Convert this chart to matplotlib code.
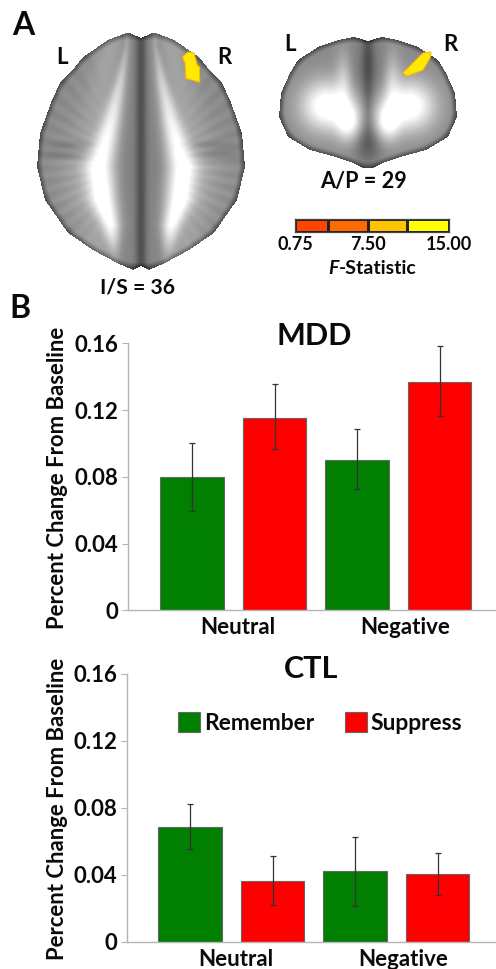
#!/usr/bin/env python3

import numpy as np
import matplotlib
matplotlib.use('Agg')
import matplotlib.pyplot as plt
from matplotlib.patches import Patch

plt.rcParams['font.family'] = ['Lato', 'DejaVu Sans']
plt.rcParams['font.weight'] = 'bold'

conditions = ['Remember', 'Suppress']
groups = ['Neutral', 'Negative']
y_ticks = [0, 0.04, 0.08, 0.12, 0.16]
y_tick_labels = ['0', '0.04', '0.08', '0.12', '0.16']

mdd_values = [0.080, 0.1155, 0.090, 0.137]
mdd_low = [0.0595, 0.0967, 0.0727, 0.1163]
mdd_high = [0.100, 0.1354, 0.1085, 0.1584]

ctl_values = [0.0687, 0.0364, 0.042, 0.0404]
ctl_low = [0.0555, 0.0219, 0.0213, 0.0279]
ctl_high = [0.082, 0.051, 0.0625, 0.0527]

cbar_edges = [0.75, 3.77, 7.47, 11.08, 15.0]
cbar_colors = ['#ff4400', '#ff6a00', '#ffc400', '#ffff00']
cbar_ticks = [0.75, 7.5, 15.0]
cbar_labels = ['0.75', '7.50', '15.00']

GREEN = '#007f00'
RED = '#ff0000'
INK = '#0a0a0a'
W, H = 496, 969


def px_axes(fig, left, top, right, bottom):
    return fig.add_axes([left / W, 1 - bottom / H, (right - left) / W, (bottom - top) / H])


def blur(a, s):
    k = np.exp(-0.5 * (np.arange(-3 * s, 3 * s + 1) / s) ** 2)
    k /= k.sum()
    a = np.apply_along_axis(lambda r: np.convolve(r, k, mode='same'), 0, a)
    return np.apply_along_axis(lambda r: np.convolve(r, k, mode='same'), 1, a)


def blob(u, v, cu, cv, su, sv):
    return np.exp(-0.5 * (((u - cu) / su) ** 2 + ((v - cv) / sv) ** 2))


def axial_slice(xx, yy):
    cx = 141
    u, v = xx - cx, yy
    edge_y = [33, 40, 57, 67, 83, 100, 133, 167, 200, 233, 250, 263, 270]
    edge_w = [15, 33, 58, 66, 81, 89, 101, 104, 96, 73, 48, 24, 8]
    hw = np.interp(v, edge_y, edge_w)
    mask = (np.abs(u) < hw) & (v > 33) & (v < 270)
    mask &= ~(v < 38 - np.abs(u) * 0.45)
    mask &= ~(v > 266 + np.abs(u) * 0.5)
    m = blur(mask.astype(float), 7)
    img = 0.30 + 0.24 * np.clip((m - 0.5) * 3.5, 0, 1)

    # bright tracts either side of the midline
    tv = [45, 80, 120, 167, 200, 225, 255]
    tu = [14, 20, 29, 42, 38, 30, 26]
    ts = [2, 4, 7, 11, 10, 7, 4]
    ta = [0.08, 0.24, 0.36, 0.46, 0.48, 0.42, 0.08]
    cu = np.interp(v, tv, tu)
    su = np.interp(v, tv, ts)
    amp = np.interp(v, tv, ta)
    img += amp * np.exp(-0.5 * ((np.abs(u) - cu) / su) ** 2)
    img += 0.1 * np.exp(-0.5 * ((np.abs(u) - cu - 16) / (su + 9)) ** 2)

    # dark midline and grey band
    img -= 0.22 * np.exp(-0.5 * (u / 4) ** 2)
    img -= 0.05 * blob(np.abs(u), v, 16, 165, 8, 70)
    for cu2, cv2 in [(68, 145), (75, 155)]:
        img -= 0.08 * blob(np.abs(u), v, cu2, cv2, 16, 3)
    ang = np.arctan2(v - 165, u)
    img += 0.018 * np.sin(ang * 44) * np.clip((np.abs(u) - 30) / 40, 0, 1)
    return np.clip(img, 0, 1), mask


def coronal_slice(xx, yy):
    cx = 368
    u, v = xx - cx, yy
    edge_y = [37, 40, 47, 60, 73, 93, 117, 137, 150, 157, 163, 168]
    edge_w = [14, 30, 50, 70, 78, 87, 89, 80, 58, 32, 15, 5]
    hw = np.interp(v, edge_y, edge_w)
    mask = (np.abs(u) < hw) & (v > 37) & (v < 168)
    mask &= ~(v < 41 - np.abs(u) * 0.3)
    m = blur(mask.astype(float), 6)
    img = 0.28 + 0.26 * np.clip((m - 0.5) * 3.2, 0, 1)
    img += 0.54 * blob(np.abs(u), v, 42, 106, 18, 18)
    img += 0.42 * blob(np.abs(u), v, 19, 122, 9, 14)
    img += 0.2 * blob(np.abs(u), v, 24, 78, 6, 20)
    img -= 0.22 * blob(u, v, 0, 65, 4.5, 34)
    img -= 0.06 * blob(np.abs(u), v, 12, 72, 8, 20)
    img -= 0.18 * blob(u, v, 0, 143, 10, 13)
    return np.clip(img, 0, 1), mask


def bar_panel(fig, top, bottom, left, title, title_xy, values, low, high, x_center, label_y):
    ax = px_axes(fig, left, top, W, bottom)
    ax.patch.set_visible(False)
    ax.set_xlim((left - x_center) / 82.5, (W - x_center) / 82.5)
    ax.set_ylim(0, 0.16)
    x = np.arange(4)
    colors = [GREEN, RED, GREEN, RED]
    ax.bar(x, values, width=0.77, color=colors, edgecolor='#666666', linewidth=0.8, zorder=2)
    err = [np.array(values) - np.array(low), np.array(high) - np.array(values)]
    ax.errorbar(x, values, yerr=err, fmt='none', ecolor='#333333', elinewidth=0.9,
                capsize=2.2, capthick=0.9, zorder=3)
    for side in ['top', 'right']:
        ax.spines[side].set_visible(False)
    for side in ['left', 'bottom']:
        ax.spines[side].set_color('#b5b5b5')
        ax.spines[side].set_linewidth(1.0)
    ax.set_yticks(y_ticks)
    ax.set_yticklabels(y_tick_labels, fontsize=16, color=INK)
    ax.tick_params(axis='y', length=4, color='#b5b5b5', pad=3)
    ax.set_xticks([0.55, 2.58])
    ax.set_xticklabels(groups, fontsize=16, color=INK)
    ax.tick_params(axis='x', length=0, pad=5)
    fig.text(title_xy[0] / W, 1 - title_xy[1] / H, title, fontsize=22, ha='center', va='center',
             color=INK)
    fig.text(57 / W, 1 - label_y / H, 'Percent Change From Baseline',
             rotation=90, fontsize=15.9, ha='center', va='center', color=INK)
    return ax


fig = plt.figure(figsize=(W / 100, H / 100), dpi=100, facecolor='white')

# panel A, everything placed in image pixels
bg = fig.add_axes([0, 0, 1, 1])
bg.set_xlim(0, W)
bg.set_ylim(H, 0)
bg.axis('off')

yy, xx = np.mgrid[0:H, 0:W]
canvas = np.ones((H, W, 4))
canvas[..., 3] = 0
for func in (axial_slice, coronal_slice):
    img, mask = func(xx.astype(float) + 0.5, yy.astype(float) + 0.5)
    for c in range(3):
        canvas[..., c][mask] = img[mask]
    canvas[..., 3][mask] = 1
bg.imshow(canvas, extent=(0, W, H, 0), interpolation='bilinear', aspect='auto', zorder=1)
bg.set_xlim(0, W)
bg.set_ylim(H, 0)

cluster_a_x = [182.5, 188, 194, 197, 199.5, 199.5, 186, 185]
cluster_a_y = [57, 52, 53, 65, 67, 82, 78.5, 63]
cluster_c_x = [403, 423, 431, 430, 423, 407]
cluster_c_y = [73, 53, 52, 58, 70, 76]
for cx_, cy_ in [(cluster_a_x, cluster_a_y), (cluster_c_x, cluster_c_y)]:
    bg.fill(cx_, cy_, facecolor='#ffea00', edgecolor='#ffb800', linewidth=0.8, zorder=2)

for txt, x, y, size in [('A', 23, 25, 23), ('B', 20, 309, 23), ('L', 62, 57, 16),
                        ('R', 224, 57, 16), ('L', 290, 44, 16), ('R', 450, 44, 16),
                        ('I/S = 36', 138, 288, 15.2), ('A/P = 29', 364, 181, 15.6)]:
    bg.text(x, y, txt, fontsize=size, ha='center', va='center', color=INK, zorder=4)

cb = px_axes(fig, 295, 219, 449, 232)
cb.pcolormesh(cbar_edges, [0, 1], np.arange(4).reshape(1, 4),
              cmap=matplotlib.colors.ListedColormap(cbar_colors),
              edgecolors='#222222', linewidth=0.8)
cb.set_yticks([])
cb.set_xticks(cbar_ticks)
cb.set_xticklabels(cbar_labels, fontsize=13, color=INK)
cb.tick_params(axis='x', length=0, pad=3)
for s in cb.spines.values():
    s.set_color('#444444')
    s.set_linewidth(0.9)
bg.text(339, 268, 'F', fontsize=14, style='italic', ha='right', va='center', color=INK, zorder=4)
bg.text(339, 268, '-Statistic', fontsize=14, ha='left', va='center', color=INK, zorder=4)

# panel B
mdd_ax = bar_panel(fig, 343.3, 610.3, 128, 'MDD', (314, 336), mdd_values, mdd_low, mdd_high, 192, 477.5)
ctl_ax = bar_panel(fig, 673.7, 941.7, 127, 'CTL', (311, 669), ctl_values, ctl_low, ctl_high, 190, 809)

handles = [Patch(facecolor=GREEN, edgecolor='#666666', linewidth=0.8),
           Patch(facecolor=RED, edgecolor='#666666', linewidth=0.8)]
ctl_ax.legend(handles, conditions, ncol=2, frameon=False, fontsize=16.4,
              handlelength=0.96, handleheight=0.96, handletextpad=0.18, columnspacing=1.36,
              loc='center', bbox_to_anchor=(320 / W, 1 - 723 / H),
              bbox_transform=fig.transFigure, labelcolor=INK, borderpad=0, borderaxespad=0)

fig.savefig('out.png', dpi=100)
